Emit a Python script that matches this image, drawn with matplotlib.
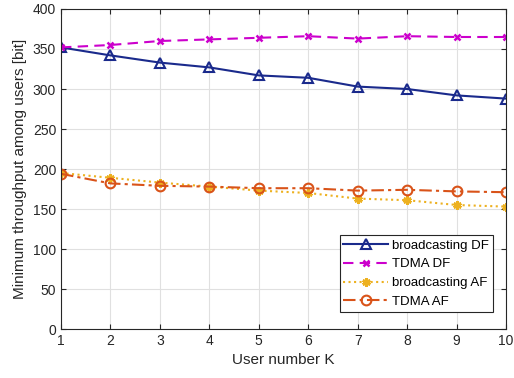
import numpy as np
import matplotlib
matplotlib.use("Agg")
import matplotlib.pyplot as plt

plt.rcParams["font.family"] = ["Liberation Sans", "DejaVu Sans"]

users = np.arange(1, 11)
bc_df = [352, 342, 333, 327, 317, 314, 303, 300, 292, 288]
tdma_df = [352, 355, 360, 362, 364, 366, 363, 366, 365, 365]
bc_af = [195, 189, 183, 178, 173, 170, 163, 161, 155, 153]
tdma_af = [194, 182, 179, 178, 176, 176, 173, 174, 172, 171]

fig = plt.figure(figsize=(5.14, 3.78), dpi=100)
ax = fig.add_axes([0.1187, 0.1296, 0.8658, 0.8466])

ax.plot(users, bc_df, color="#1a2a8c", lw=1.5, marker="^", ms=7, mfc="none",
        mew=1.5, label="broadcasting DF")
ax.plot(users, tdma_df, color="#cc00cc", lw=1.5, ls=(0, (5, 3)), marker="x", ms=5,
        mew=1.8, label="TDMA DF")
ax.plot(users, bc_af, color="#edb120", lw=1.5, ls=":", marker=(6, 2, 0), ms=6,
        mew=2, label="broadcasting AF")
ax.plot(users, tdma_af, color="#d95319", lw=1.5, ls=(0, (6, 2, 1.5, 2)), marker="o", ms=7,
        mfc="none", mew=1.5, label="TDMA AF")

ax.set_xlim(1, 10)
ax.set_ylim(0, 400)
ax.set_xticks(users)
ax.set_yticks(np.arange(0, 401, 50))
ax.grid(True, color="#e0e0e0", lw=0.8)
ax.set_axisbelow(True)
ax.tick_params(direction="in", top=True, right=True, labelsize=10, colors="#262626")
for sp in ax.spines.values():
    sp.set_color("#262626")
    sp.set_linewidth(0.8)
ax.set_xlabel("User number K", fontsize=11, color="#262626")
ax.set_ylabel("Minimum throughput among users [bit]", fontsize=11, color="#262626")

leg = ax.legend(loc="lower right", bbox_to_anchor=(0.971, 0.053), borderaxespad=0,
                fontsize=9.5, fancybox=False, edgecolor="#262626", framealpha=1,
                handlelength=3.4, borderpad=0.3, labelspacing=0.5, handletextpad=0.3)
leg.get_frame().set_linewidth(0.8)

fig.savefig("out.png", dpi=100)
